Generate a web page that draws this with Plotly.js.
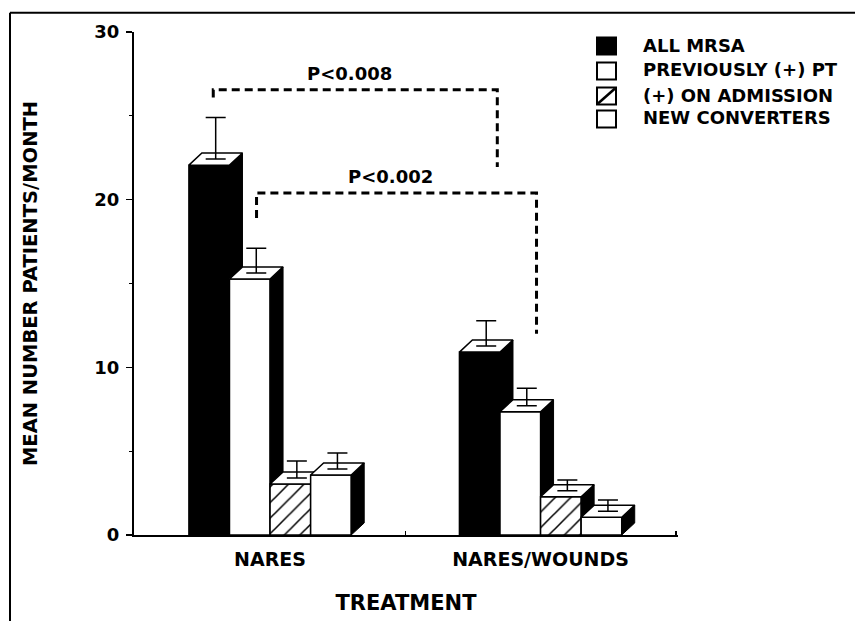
<!DOCTYPE html>
<html>
<head>
<meta charset="utf-8">
<script src="https://cdn.plot.ly/plotly-3.0.1.min.js"></script>
<style>html,body{margin:0;padding:0;background:#fff;}#chart{width:855px;height:621px;}</style>
</head>
<body>
<div id="chart"></div>
<script>
// ---- data ----
const categories = ['NARES', 'NARES/WOUNDS'];
const seriesNames = ['ALL MRSA', 'PREVIOUSLY (+) PT', '(+) ON ADMISSION', 'NEW CONVERTERS'];
const allMrsa = [22.06, 10.91];
const previouslyPositive = [15.27, 7.35];
const positiveOnAdmission = [3.04, 2.28];
const newConverters = [3.58, 1.06];
const allMrsaErr = [2.84, 1.87];
const previouslyPositiveErr = [1.83, 1.40];
const positiveOnAdmissionErr = [1.37, 1.00];
const newConvertersErr = [1.31, 1.03];
const yTickVals = [0, 10, 20, 30];
const yMinorVals = [5, 15, 25];
const pLabels = ['P<0.008', 'P<0.002'];
const bracketLeftX = [-0.21, -0.05];
const bracketRightX = [0.84, 0.985];
const bracketTopY = [26.55, 20.4];
const bracketLeftEndY = [26.1, 18.9];
const bracketRightEndY = [21.95, 12.0];

// ---- styling / geometry ----
const FONT = 'DejaVu Sans, Liberation Sans, Arial, sans-serif';
const BW = 0.15;      // bar width (x units)
const DX = 0.048;     // 3D depth in x units
const DY = 0.72;      // 3D depth in y units
const fills = ['black', 'white', 'hatch', 'white'];
const vals = [allMrsa, previouslyPositive, positiveOnAdmission, newConverters];
const errs = [allMrsaErr, previouslyPositiveErr, positiveOnAdmissionErr, newConvertersErr];
const xs = categories.map((_, i) => i);
const XR = [-0.503, 1.508];

const traces = [];
vals.forEach((v, s) => {
  const suf = s === 0 ? '' : String(s + 1);
  const xa = 'x' + suf, ya = 'y' + suf;
  const hatch = fills[s] === 'hatch';
  const bar = {
    type: 'bar', name: seriesNames[s], x: xs, y: v, width: BW, offset: -0.3 + s * BW,
    xaxis: xa, yaxis: ya, showlegend: false, hoverinfo: 'skip',
    marker: { color: fills[s] === 'black' ? 'black' : 'white', line: { color: 'black', width: 1.5 } }
  };
  if (hatch) bar.marker.pattern = { shape: '/', fgcolor: 'black', bgcolor: 'white', size: 11, solidity: 0.14 };
  traces.push(bar);
  xs.forEach((c, i) => {
    const left = c - 0.3 + s * BW, right = left + BW, h = v[i];
    // side face
    traces.push({
      type: 'scatter', mode: 'lines', xaxis: xa, yaxis: ya, showlegend: false, hoverinfo: 'skip',
      x: [right, right + DX, right + DX, right, right], y: [0, DY, h + DY, h, 0],
      fill: 'toself', fillcolor: 'black', line: { color: 'black', width: 1 }
    });
    // top face
    traces.push({
      type: 'scatter', mode: 'lines', xaxis: xa, yaxis: ya, showlegend: false, hoverinfo: 'skip',
      x: [left, right, right + DX, left + DX, left], y: [h, h, h + DY, h + DY, h],
      fill: 'toself', fillcolor: 'white', line: { color: 'black', width: 1.5 }
    });
  });
  // error bars from the centre of the top face
  traces.push({
    type: 'scatter', mode: 'markers', xaxis: xa, yaxis: ya, showlegend: false, hoverinfo: 'skip',
    x: xs.map(c => c - 0.3 + s * BW + BW / 2 + DX / 2),
    y: v.map(h => h + DY / 2),
    marker: { size: 1, color: 'rgba(0,0,0,0)' },
    error_y: { type: 'data', symmetric: false, array: errs[s].map(e => e - DY / 2),
               arrayminus: errs[s].map(() => 0), color: 'black', thickness: 1.5, width: 10 }
  });
});

// pixel -> paper helpers for decorations outside data space
const L = 134, R = 678, T = 32, B = 535;
const px = p => (p - L) / (R - L);
const py = p => (B - p) / (B - T);

const shapes = [];
// figure frame (top and left)
shapes.push({ type: 'line', xref: 'paper', yref: 'paper', x0: px(10), x1: px(856), y0: py(12.7), y1: py(12.7), line: { color: 'black', width: 2 } });
shapes.push({ type: 'line', xref: 'paper', yref: 'paper', x0: px(10), x1: px(10), y0: py(12.7), y1: py(622), line: { color: 'black', width: 2 } });
// significance brackets
pLabels.forEach((_, k) => {
  shapes.push({
    type: 'path', xref: 'x', yref: 'y',
    path: `M ${bracketLeftX[k]},${bracketLeftEndY[k]} L ${bracketLeftX[k]},${bracketTopY[k]} L ${bracketRightX[k]},${bracketTopY[k]} L ${bracketRightX[k]},${bracketRightEndY[k]}`,
    line: { color: 'black', width: 3, dash: '8px,5px' }
  });
});
// legend swatches
const legRows = [46, 71, 96, 119];
const legText = [45, 70, 95.5, 118];
legRows.forEach((c, k) => {
  shapes.push({ type: 'rect', xref: 'paper', yref: 'paper', x0: px(597), x1: px(616), y0: py(c + 8.5), y1: py(c - 8.5),
    fillcolor: fills[k] === 'black' ? 'black' : 'white', line: { color: 'black', width: 2 } });
  if (fills[k] === 'hatch') {
    shapes.push({ type: 'line', xref: 'paper', yref: 'paper', x0: px(598), x1: px(615), y0: py(c + 7.5), y1: py(c - 7.5), line: { color: 'black', width: 2.5 } });
  }
});

const annotations = [];
pLabels.forEach((t, k) => {
  annotations.push({ xref: 'x', yref: 'y', x: (bracketLeftX[k] + bracketRightX[k]) / 2, y: bracketTopY[k],
    xshift: -6, yshift: 16, text: t, showarrow: false, xanchor: 'center', yanchor: 'middle',
    font: { family: FONT, size: 18, color: 'black', weight: 700 } });
});
seriesNames.forEach((t, k) => {
  annotations.push({ xref: 'paper', yref: 'paper', x: px(641), y: py(legText[k]), text: t, showarrow: false,
    xanchor: 'left', yanchor: 'middle', font: { family: FONT, size: 18, color: 'black', weight: 700 } });
});

const layout = {
  width: 855, height: 621,
  margin: { l: L, r: 855 - R, t: T, b: 621 - B, autoexpand: false },
  paper_bgcolor: 'white', plot_bgcolor: 'white',
  showlegend: false,
  xaxis: {
    range: XR, tickmode: 'array', tickvals: xs, ticktext: categories, ticks: '',
    showline: true, linecolor: 'black', linewidth: 2, showgrid: false, zeroline: false,
    tickfont: { family: FONT, size: 19, color: 'black', weight: 700 }, ticklabelstandoff: 6,
    minor: { tickmode: 'array', tickvals: [0.5, 1.5], ticks: 'inside', ticklen: 4, tickwidth: 1.5, tickcolor: 'black', showgrid: false },
    title: { text: 'TREATMENT', font: { family: FONT, size: 21, color: 'black', weight: 700 }, standoff: 27 },
    automargin: false, fixedrange: true
  },
  yaxis: {
    range: [0, 30], tickmode: 'array', tickvals: yTickVals, ticks: 'outside', ticklen: 6, tickwidth: 1.5, tickcolor: 'black',
    showline: true, linecolor: 'black', linewidth: 2, showgrid: false, zeroline: false,
    tickfont: { family: FONT, size: 18, color: 'black', weight: 700 }, ticklabelstandoff: 3,
    minor: { tickmode: 'array', tickvals: yMinorVals, ticks: 'outside', ticklen: 3, tickwidth: 1.2, tickcolor: 'black', showgrid: false },
    title: { text: 'MEAN NUMBER PATIENTS/MONTH', font: { family: FONT, size: 19.5, color: 'black', weight: 700 }, standoff: 52 },
    automargin: false, fixedrange: true
  },
  shapes: shapes,
  annotations: annotations
};
for (let s = 2; s <= 4; s++) {
  layout['xaxis' + s] = { overlaying: 'x', range: XR, visible: false, fixedrange: true };
  layout['yaxis' + s] = { overlaying: 'y', range: [0, 30], visible: false, fixedrange: true };
}

Plotly.newPlot('chart', traces, layout, { staticPlot: true, displayModeBar: false });
</script>
</body>
</html>
